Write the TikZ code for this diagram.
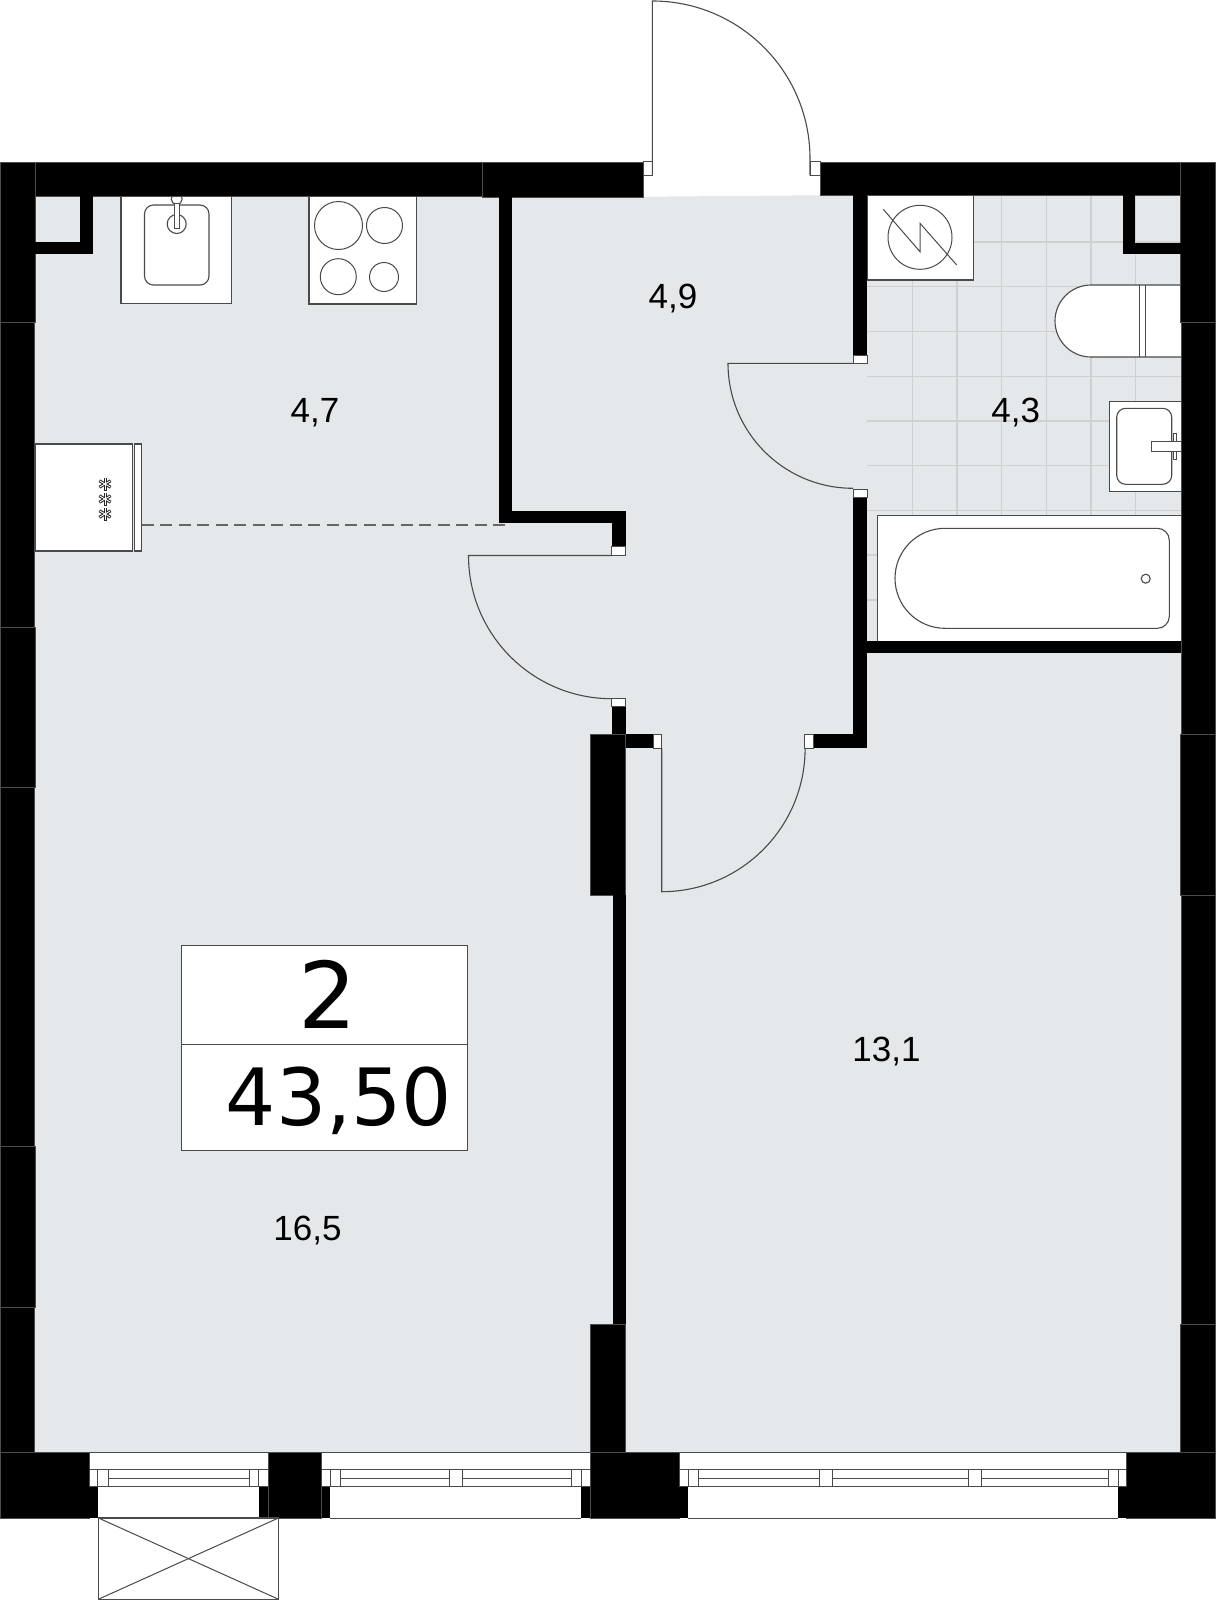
\documentclass[tikz,border=0pt]{standalone}
\usepackage{fontspec}
\setmainfont{Liberation Sans}
\newfontfamily\numfont{DejaVu Sans}
\definecolor{floorc}{HTML}{E4E8EB}
\definecolor{tilec}{HTML}{CFD0D1}
\definecolor{linec}{HTML}{4A4A4A}
\tikzset{
  wallseg/.style={fill=black,draw=black!70,line width=0.5pt},
  fixture/.style={fill=white,draw=linec,line width=1.1pt},
  thinfix/.style={draw=linec,line width=1pt},
  jamb/.style={fill=white,draw=linec,line width=0.8pt},
  leaf/.style={draw=linec,line width=1.1pt},
  tile/.style={draw=tilec,line width=1.4pt},
  arealabel/.style={font=\fontsize{35}{35}\selectfont,text=black,inner sep=0pt,anchor=center},
  framebar/.style={draw=linec,line width=0.9pt},
  flake/.style={draw=black!85,line width=3pt},
  flakein/.style={draw=white,line width=0.9pt}
}
\newcommand{\flakemark}[2]{%
  \foreach \ang in {30,90,150}{\draw[flake,rotate around={\ang:(#1,#2)}] (#1-6.5,#2) -- (#1+6.5,#2);}
  \foreach \ang in {30,90,150}{\draw[flakein,rotate around={\ang:(#1,#2)}] (#1-6,#2) -- (#1+6,#2);}
}
\begin{document}
\begin{tikzpicture}[x=1pt,y=-1pt]
\useasboundingbox (0,0) rectangle (1216,1600);
% floor
\fill[floorc] (34,196.7) -- (643,196.7) -- (853,195) -- (1181,195) -- (1181,1452) -- (34,1452) -- cycle;
% tiles
\begin{scope}
\clip (867,195) rectangle (1181,641);
\foreach \gx in {912.3,957,1001.7,1046.3,1091,1135.7}{\draw[tile] (\gx,195) -- (\gx,641);}
\foreach \gy in {242,286.7,331.7,376.3,421,465.7,510.3,555,600}{\draw[tile] (867,\gy) -- (1181,\gy);}
\end{scope}
% kitchen sink
\draw[fixture] (121,196) rectangle (231.5,303.5);
\draw[fixture,rounded corners=9pt] (144.5,205) rectangle (209,285);
\draw[fixture] (176.7,224) circle (9.5);
\begin{scope}
\clip (160,196) rectangle (195,230);
\draw[fixture] (176.7,199) circle (5.5);
\end{scope}
\draw[fill=white,draw=linec,line width=0.9pt] (174.5,203) rectangle (179,228);
% hob
\draw[fixture] (309,196) rectangle (416.5,304);
\draw[thinfix] (338.5,225.5) circle (24);
\draw[thinfix] (384.5,225.5) circle (18);
\draw[thinfix] (338.3,276.7) circle (18);
\draw[thinfix] (384,277) circle (14.5);
% shaft cabinet
\draw[fixture] (35,444) rectangle (132.5,551);
\draw[fixture] (134.5,444) rectangle (141.5,551);
\flakemark{105}{484}
\flakemark{105}{499}
\flakemark{105}{514}
% electric box
\draw[fixture] (867.3,195) rectangle (973.3,280);
\draw[thinfix] (920,237.3) circle (32);
\draw[thinfix] (883.3,209.3) -- (920,251.7) -- (920,223.3) -- (956.7,265);
% toilet
\draw[fixture] (1181,285) -- (1091,285) arc[start angle=270,end angle=90,radius=36] -- (1181,357);
\draw[thinfix] (1139.3,285) -- (1139.3,357);
\draw[thinfix] (1145,285) -- (1145,357);
% basin
\draw[fixture] (1181.7,401.7) -- (1109.3,401.7) -- (1109.3,491.3) -- (1181.7,491.3);
\draw[fixture,rounded corners=9pt] (1116.7,408.3) rectangle (1171.7,484.3);
\draw[fill=white,draw=linec,line width=0.8pt] (1173.3,433.3) rectangle (1176.7,459.3);
\draw[fill=white,draw=linec,line width=0.8pt] (1181,441.7) -- (1151.7,441.7) -- (1151.7,451) -- (1181,451);
% bath
\draw[fixture] (877.3,640.7) -- (877.3,515.7) -- (1181,515.7);
\fill[white] (877.8,516.2) rectangle (1181,640.7);
\draw[fixture,fill=white] (945,528.3) -- (1157.3,528.3) arc[start angle=-90,end angle=0,radius=12] -- (1169.3,616.3) arc[start angle=0,end angle=90,radius=12] -- (945,628.3) arc[start angle=90,end angle=270,radius=50] -- cycle;
\draw[fixture] (1145.7,578.7) circle (4.5);
% windows white
\fill[white] (89,1452) rectangle (268,1518);
\fill[white] (321.5,1452) rectangle (590.3,1518);
\fill[white] (679.4,1452) rectangle (1126.5,1518);
% walls
\draw[wallseg] (0.5,162) rectangle (35.5,322);
\draw[wallseg] (0.5,322) rectangle (34.5,627);
\draw[wallseg] (0.5,627) rectangle (35.5,787.6);
\draw[wallseg] (0.5,787.6) rectangle (34.5,1145.8);
\draw[wallseg] (0.5,1145.8) rectangle (35.5,1307);
\draw[wallseg] (0.5,1307) rectangle (34.5,1452);
\draw[wallseg] (35.5,162) rectangle (482.7,196);
\draw[wallseg] (482.7,162) rectangle (643.3,197);
\draw[wallseg] (820.7,162) rectangle (1180.7,195);
\draw[wallseg] (1180.7,162) rectangle (1215,322.3);
\draw[wallseg] (1181.7,322.3) rectangle (1215,733.8);
\draw[wallseg] (1180.3,733.8) rectangle (1215,895);
\draw[wallseg] (1181.7,895) rectangle (1215,1324.7);
\draw[wallseg] (1180.3,1324.7) rectangle (1215,1452);
% stubs
\fill[black] (80,196) rectangle (92.5,254);
\fill[black] (35,242) rectangle (80,254);
\fill[black] (1123.3,195) rectangle (1135.3,254.3);
\fill[black] (1135.3,242.7) rectangle (1181,254.3);
% partitions
\fill[black] (499,196) rectangle (511.7,522.7);
\fill[black] (499,510.7) rectangle (625.7,522.7);
\fill[black] (611.7,522) rectangle (625.7,546.7);
\fill[black] (611.7,706.7) rectangle (625.7,734);
\draw[wallseg] (590,734) rectangle (625.7,895);
\fill[black] (613,895) rectangle (625.7,1324);
\draw[wallseg] (590,1324) rectangle (625.7,1452);
\fill[black] (625.7,734) rectangle (653.3,748.3);
\fill[black] (813.7,734) rectangle (867.3,748.3);
\fill[black] (853.3,195) rectangle (867.3,355);
\fill[black] (853.3,497.3) rectangle (867.3,748.3);
\fill[black] (867.3,640.7) rectangle (1181,653.3);
% dashed room boundary
\draw[draw=black!60,line width=1.1pt,dash pattern=on 12pt off 6.5pt] (141.5,525) -- (505,525);
% bottom wall
\draw[wallseg] (0.5,1452) rectangle (89,1518);
\draw[wallseg] (268,1452) rectangle (321.5,1518);
\draw[wallseg] (590.3,1452) rectangle (679.4,1518);
\draw[wallseg] (1126.5,1452) rectangle (1215,1518);
\fill[black] (89,1486) rectangle (98,1518);
\fill[black] (259,1486) rectangle (268,1518);
\fill[black] (321.5,1486) rectangle (330,1518);
\fill[black] (581.3,1486) rectangle (590.3,1518);
\fill[black] (679.4,1486) rectangle (688.4,1518);
\fill[black] (1118,1486) rectangle (1126.5,1518);
% window frames
\draw[framebar] (89,1452) -- (268,1452);
\draw[framebar] (98,1518) -- (259,1518);
\draw[framebar] (89,1469.3) -- (268,1469.3);
\draw[framebar] (89,1486) -- (268,1486);
\draw[framebar] (108.3,1478.3) -- (249,1478.3);
\foreach \fx in {89,97.7,108.3,249,258.5,268}{\draw[framebar] (\fx,1469.3) -- (\fx,1486);}
\draw[framebar] (321.5,1452) -- (590.3,1452);
\draw[framebar] (330,1518) -- (581.3,1518);
\draw[framebar] (321.5,1469.3) -- (590.3,1469.3);
\draw[framebar] (321.5,1486) -- (590.3,1486);
\draw[framebar] (340.8,1478.3) -- (449.6,1478.3);
\draw[framebar] (462.2,1478.3) -- (571.4,1478.3);
\foreach \fx in {321.5,330,340.8,449.6,462.2,571.4,581.3,590.3}{\draw[framebar] (\fx,1469.3) -- (\fx,1486);}
\draw[framebar] (679.4,1452) -- (1126.5,1452);
\draw[framebar] (688.4,1518) -- (1118,1518);
\draw[framebar] (679.4,1469.3) -- (1126.5,1469.3);
\draw[framebar] (679.4,1486) -- (1126.5,1486);
\draw[framebar] (698.2,1478) -- (819.3,1478);
\draw[framebar] (832.6,1478) -- (968.6,1478);
\draw[framebar] (981,1478) -- (1108,1478);
\foreach \fx in {679.4,688.4,698.2,819.3,832.6,968.6,981,1108,1118,1126.5}{\draw[framebar] (\fx,1469.3) -- (\fx,1486);}
% balcony box
\draw[fixture] (98.5,1518) rectangle (278.4,1599.2);
\draw[thinfix] (98.5,1518) -- (278.4,1599.2);
\draw[thinfix] (98.5,1599.2) -- (278.4,1518);
% jambs and doors
\draw[jamb] (643.3,161.7) rectangle (652.3,175.7);
\draw[jamb] (810,161.7) rectangle (820.7,175.7);
\draw[leaf] (652.3,175.7) -- (652.3,1) arc[start angle=-90,end angle=0,radius=157.7] -- (810,175.7);
\draw[jamb] (853,355) rectangle (867.3,363.3);
\draw[jamb] (853,489) rectangle (867.3,497.3);
\draw[leaf] (853,363.3) -- (728,363.3) arc[start angle=180,end angle=90,radius=125];
\draw[jamb] (611.7,546.7) rectangle (625.7,555.5);
\draw[jamb] (611.7,698.3) rectangle (625.7,706.7);
\draw[leaf] (611.7,555.5) -- (468.5,555.5) arc[start angle=180,end angle=90,radius=143.2];
\draw[jamb] (653.3,734) rectangle (661.7,748.3);
\draw[jamb] (804.5,734) rectangle (813.7,748.3);
\draw[leaf] (661.7,748.3) -- (661.7,891.7) arc[start angle=90,end angle=0,radius=143.4];
% info box
\draw[fixture] (181.5,945.7) rectangle (467.7,1150.3);
\draw[thinfix] (181.5,1044.3) -- (467.7,1044.3);
\node[anchor=base,inner sep=0pt,font=\numfont\fontsize{92}{92}\selectfont] (rooms) at (327.5,1028.3) {2};
\node[anchor=base,inner sep=0pt,font=\numfont\fontsize{79}{79}\selectfont] (total) at (339,1125) {43,50};
% area labels
\node[arealabel] (kitchen) at (315,413) {4,7};
\node[arealabel] (hall) at (673,299) {4,9};
\node[arealabel] (bathroom) at (1015.7,413) {4,3};
\node[arealabel] (bedroom) at (886.5,1052) {13,1};
\node[arealabel] (living) at (307.5,1231) {16,5};
\end{tikzpicture}
\end{document}
